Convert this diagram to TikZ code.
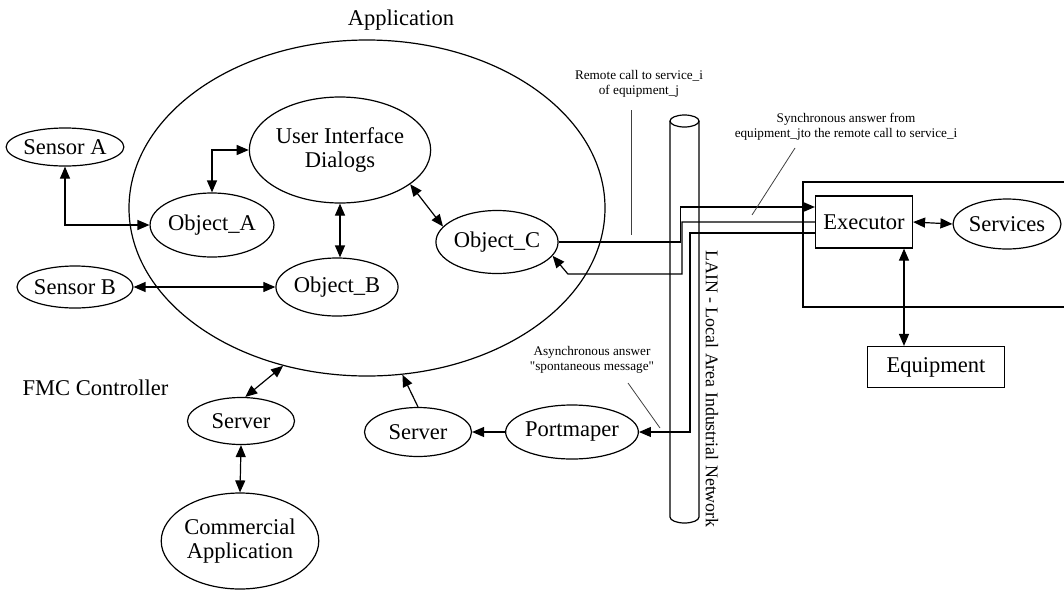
\documentclass[tikz,border=0pt]{standalone}
\usepackage{fontspec}
\setmainfont{Liberation Serif}
\newfontfamily\quotefont{Liberation Serif}[Ligatures=TeXOff]
\usetikzlibrary{arrows.meta,shapes.geometric,calc}
\newdimen\upx \upx=0.75pt
\newcommand\dgmain{\fontsize{16.9}{18}\selectfont}
\newcommand\dgnote{\fontsize{9.9}{11.25}\selectfont}
\newcommand\dglain{\fontsize{13.4}{16}\selectfont}

\begin{document}
\begin{tikzpicture}[x=0.75pt,y=-0.75pt,
  >={Triangle[length=9pt,width=7.5pt]},
  line width=0.9pt,
  every node/.style={inner sep=0pt},
  oval/.style={draw, ellipse, font=\dgmain, align=center},
  box/.style={draw, rectangle, font=\dgmain},
  pointer/.style={line width=0.6pt, black!75},
  note/.style={font=\dgnote, align=center},
]
\useasboundingbox (0,0) rectangle (1064,593);

% application boundary
\node[draw, ellipse, minimum width=476\upx, minimum height=336\upx] (app) at (367,208) {};
\node[font=\dgmain] (apptitle) at (401,20) {Application};
\node[font=\dgmain, anchor=west] (fmc) at (22,388) {FMC Controller};

% objects and peripherals
\node[oval, minimum width=106\upx, minimum height=38\upx] (sensA) at (65,147) {Sensor A};
\node[oval, minimum width=106\upx, minimum height=42\upx] (sensB) at (75,287) {Sensor B};
\node[oval, minimum width=116\upx, minimum height=64\upx] (objA) at (212,225) {Object\_A};
\node[oval, minimum width=117\upx, minimum height=58\upx] (objB) at (337,287) {Object\_B};
\node[oval, minimum width=163\upx, minimum height=106\upx] (ui) at (340,150) {User Interface\\Dialogs};
\node[oval, minimum width=117\upx, minimum height=63\upx] (objC) at (497,242) {Object\_C};
\node[oval, minimum width=107\upx, minimum height=47\upx] (srvL) at (241,421) {Server};
\node[oval, minimum width=150\upx, minimum height=96\upx] (comm) at (240,541) {Commercial\\Application};
\node[oval, minimum width=107\upx, minimum height=49\upx] (srvR) at (418,432) {Server};
\node[oval, minimum width=125\upx, minimum height=54\upx] (port) at (572,432) {Portmaper};

% remote equipment side
\draw (1070,182) -- (803,182) -- (803,307) -- (1070,307);
\node[box, minimum width=97\upx, minimum height=52\upx] (exec) at (864,222) {Executor};
\node[oval, minimum width=102\upx, minimum height=50\upx] (serv) at (1007,224) {Services};
\node[box, minimum width=137\upx, minimum height=41\upx] (equip) at (936,367) {Equipment};

% network bus (cylinder)
\draw (670,121) -- (670,517) arc[start angle=180, end angle=360, x radius=14.5\upx, y radius=6\upx]
      -- (699,121);
\draw (684.5,121) ellipse[x radius=14.5\upx, y radius=6\upx];
\node[font=\dglain, rotate=-90] (lain) at (712,389) {LAIN - Local Area Industrial Network};

% connectors inside the application
\draw[<->] (sensA.south) |- (objA.west);
\draw[<->] (objA.north) |- (ui.west);
\draw[<->] (ui.south) -- (ui.south |- objB.north);
\draw[<->] (sensB.east) -- (objB.west);
\draw[<->] (ui.-26) -- (objC.164);
\draw[<->] (srvL.80) -- (app.242);
\draw[->] (srvR.north) -- (app.282);
\draw[<->] (srvL.south) -- (comm.north);
\draw[->] (port.west) -- (srvR.east);

% network connections
\draw[->] (objC.east) -- ++(122,0) |- ($(exec.west)+(0,-15)$);
\draw[->] (exec.west) -- ++(-133,0) -- ++(0,52) -- ++(-114,0) -- (objC.-14);
\draw[->] ($(exec.west)+(0,11)$) -- ++(-125,0) |- (port.east);

% equipment side connectors
\draw[<->] (exec.east) -- (serv.west);
\draw[<->] (exec.south -| 904,0) -- (equip.north -| 904,0);

% annotations
\node[note] (lblRemote) at (639,84) {Remote call to service\_i\\of equipment\_j};
\coordinate (remoteTip) at (631,235);
\draw[pointer] (lblRemote.south -| remoteTip) ++(0,12) -- (remoteTip);

\node[note, font=\fontsize{9.9}{11.6}\selectfont] (lblSync) at (846,127) {Synchronous answer from\\equipment\_jto the remote call to service\_i};
\coordinate (syncTip) at (752,215);
\draw[pointer] (795,148) -- (syncTip);

\node[note] (lblAsync) at (592,360) {Asynchronous answer\\{\quotefont"}spontaneous message{\quotefont"}};
\coordinate (asyncTip) at (660,428);
\draw[pointer] (628,383) -- (asyncTip);
\end{tikzpicture}
\end{document}
